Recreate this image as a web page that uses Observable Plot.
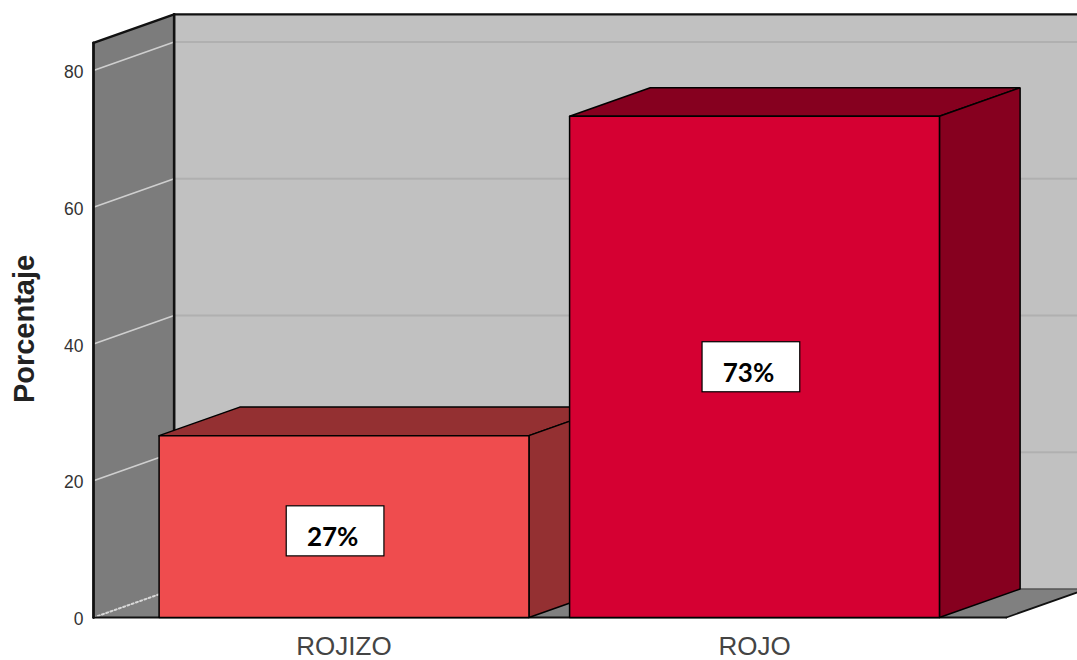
<!DOCTYPE html>
<html>
<head>
<meta charset="utf-8">
<style>html,body{margin:0;padding:0;background:#fff}</style>
<script src="https://cdn.jsdelivr.net/npm/d3@7"></script>
<script src="https://cdn.jsdelivr.net/npm/@observablehq/plot@0.6"></script>
</head>
<body>
<div id="chart"></div>
<script>
const categories = ["ROJIZO", "ROJO"];
const values = [26.6, 73.3];
const labels = ["27%", "73%"];
const labelLevels = [12.6, 36.6];
const labelShifts = [-0.023, -0.01];
const frontColors = ["#ef4c4e", "#d50032"];
const darkColors = ["#943032", "#86001f"];
const yTicks = [0, 20, 40, 60, 80];

const axisTop = 84.05, wallX = -0.6127, floorEnd = 1.611, farX = 2.2;
const depthX = 0.1965, depthY = 4.17, half = 0.4505, nudge = -0.0024;
const boxW = 0.119, boxH = 3.66;

const poly = (pts, fill, stroke = "#000", strokeWidth = 1.5) =>
  Plot.line([...pts, pts[0]].map(([x, y]) => ({x, y})), {
    x: "x", y: "y", fill, stroke, strokeWidth, curve: "linear", strokeLinejoin: "miter"
  });
const seg = (a, b, stroke, strokeWidth, extra = {}) =>
  Plot.line([a, b].map(([x, y]) => ({x, y})), {x: "x", y: "y", stroke, strokeWidth, ...extra});

const bx = wallX + depthX;

const walls = [
  poly([[bx, depthY], [farX, depthY], [farX, axisTop + depthY], [bx, axisTop + depthY]], "#c1c1c1", "none"),
  ...yTicks.slice(1).map(v => seg([bx, v + depthY], [farX, v + depthY], "#b0b0b0", 1.8)),
  poly([[wallX, 0], [bx, depthY], [bx, axisTop + depthY], [wallX, axisTop]], "#7c7c7c", "none"),
  ...yTicks.slice(1).map(v => seg([wallX, v], [bx, v + depthY], "#cfcfcf", 1.6)),
  poly([[wallX, 0], [floorEnd, 0], [floorEnd + depthX, depthY], [bx, depthY]], "#808080", "none"),
  seg([wallX, 0], [bx, depthY], "#d8d8d8", 2, {strokeDasharray: "2,2.5"}),
  seg([bx, depthY], [farX, depthY], "#555", 1.5),
  seg([wallX, 0], [floorEnd, 0], "#111", 2),
  seg([floorEnd, 0], [floorEnd + depthX, depthY], "#111", 1.8),
  seg([wallX, 0], [wallX, axisTop], "#111", 2.8),
  seg([wallX, axisTop], [bx, axisTop + depthY], "#111", 2.4),
  seg([bx, depthY], [bx, axisTop + depthY], "#111", 2.6),
  seg([bx, axisTop + depthY], [farX, axisTop + depthY], "#111", 2.2)
];

const bars = categories.flatMap((c, i) => {
  const l = i + nudge - half, r = i + nudge + half, v = values[i];
  return [
    poly([[l, v], [r, v], [r + depthX, v + depthY], [l + depthX, v + depthY]], darkColors[i]),
    poly([[r, 0], [r + depthX, depthY], [r + depthX, v + depthY], [r, v]], darkColors[i]),
    poly([[l, 0], [r, 0], [r, v], [l, v]], frontColors[i])
  ];
});

const table = categories.map((c, i) => ({
  c, i, label: labels[i], level: labelLevels[i], shift: i + labelShifts[i]
}));

const plot = Plot.plot({
  width: 1077,
  height: 660,
  marginTop: 0,
  marginRight: 0,
  marginBottom: 43,
  marginLeft: 93,
  style: {fontFamily: "'Liberation Sans', Arial, sans-serif", background: "#fff"},
  x: {domain: [wallX, 1.7844], label: null},
  y: {domain: [0, 90.24], label: null},
  marks: [
    ...walls,
    ...bars,
    Plot.rect(table, {
      x1: d => d.shift - boxW, x2: d => d.shift + boxW,
      y1: d => d.level - boxH, y2: d => d.level + boxH,
      fill: "#fff", stroke: "#000", strokeWidth: 1.2
    }),
    Plot.text(table, {
      x: d => d.shift - 0.007, y: "level", text: "label", dy: 6,
      fontFamily: "Lato, 'Open Sans', sans-serif", fontWeight: 700, fontSize: 26, fill: "#000"
    }),
    Plot.axisY({
      ticks: yTicks, tickSize: 0, tickPadding: 10, fontSize: 17.5, label: null,
      fill: "#333", anchor: "left", dy: 2
    }),
    Plot.axisX({
      ticks: [0, 1], tickFormat: i => categories[i], tickSize: 0, tickPadding: 19, fontSize: 26, dx: -1,
      label: null, fill: "#444", anchor: "bottom"
    }),
    Plot.text(["Porcentaje"], {
      x: -0.781, y: 42.2, text: d => d, rotate: -90,
      fontWeight: 700, fontSize: 29, fill: "#222"
    })
  ]
});
document.getElementById("chart").append(plot);
</script>
</body>
</html>
